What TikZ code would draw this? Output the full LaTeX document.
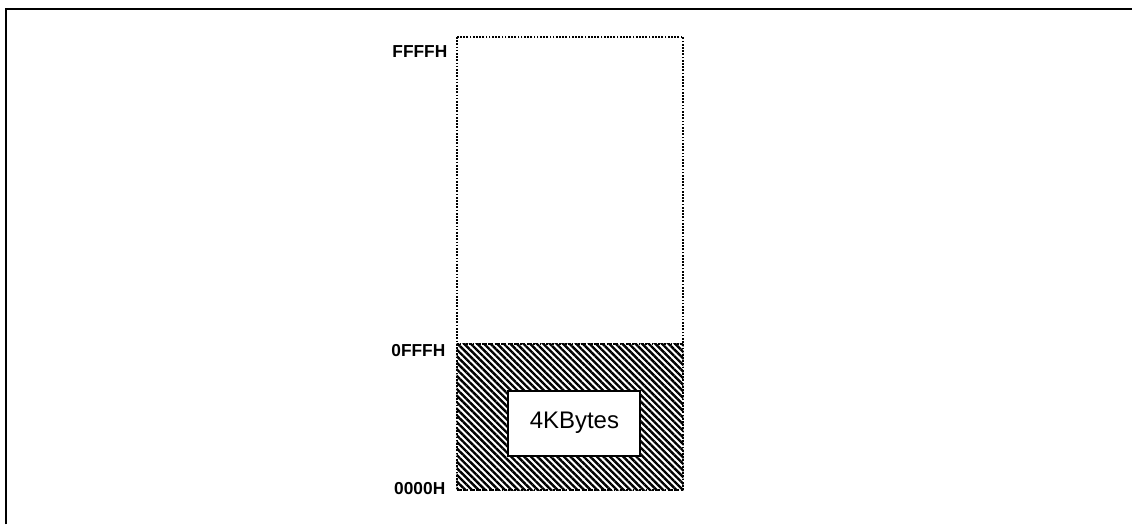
\documentclass[tikz,border=0pt]{standalone}
\usepackage{fontspec}
\setmainfont{Liberation Sans}
\usetikzlibrary{patterns.meta}

\tikzset{
  memdots/.style={line width=1.5pt,dash pattern=on 1.3pt off 1.1pt},
  addr/.style={font=\fontsize{13}{15}\selectfont\bfseries,anchor=east,inner sep=0pt},
  hatch/.style={pattern={Lines[angle=-45,distance=3.5pt,line width=1.8pt]}}
}

\begin{document}
\begin{tikzpicture}[x=0.75pt,y=0.75pt,yscale=-1,xscale=1]
\path (0,0) rectangle (1133,525); %set diagram left start at 0, and has height of 525

%Frame
\draw [line width=1.8pt]    (6,525) -- (6,9) -- (1133,9) ;
%Shape: Rectangle [hatched area]
\fill [hatch]  (457,344) rectangle (684,491) ;
%Shape: Rectangle [memory]
\draw [memdots]  (457,37) rectangle (684,491) ;
%Straight Lines [boundary]
\draw [memdots]    (457,344) -- (684,344) ;
%Shape: Rectangle [block]
\node [draw,line width=1.5pt,fill=white,minimum width=99pt,minimum height=48.75pt,
  font=\fontsize{18}{21}\selectfont] (block) at (575,423.5) {4KBytes};

%Text Nodes
\node [addr] (ffffh) at (448,52) {FFFFH};
\node [addr] (offfh) at (446,351) {0FFFH};
\node [addr] (zeroh) at (446,489) {0000H};

\end{tikzpicture}
\end{document}
